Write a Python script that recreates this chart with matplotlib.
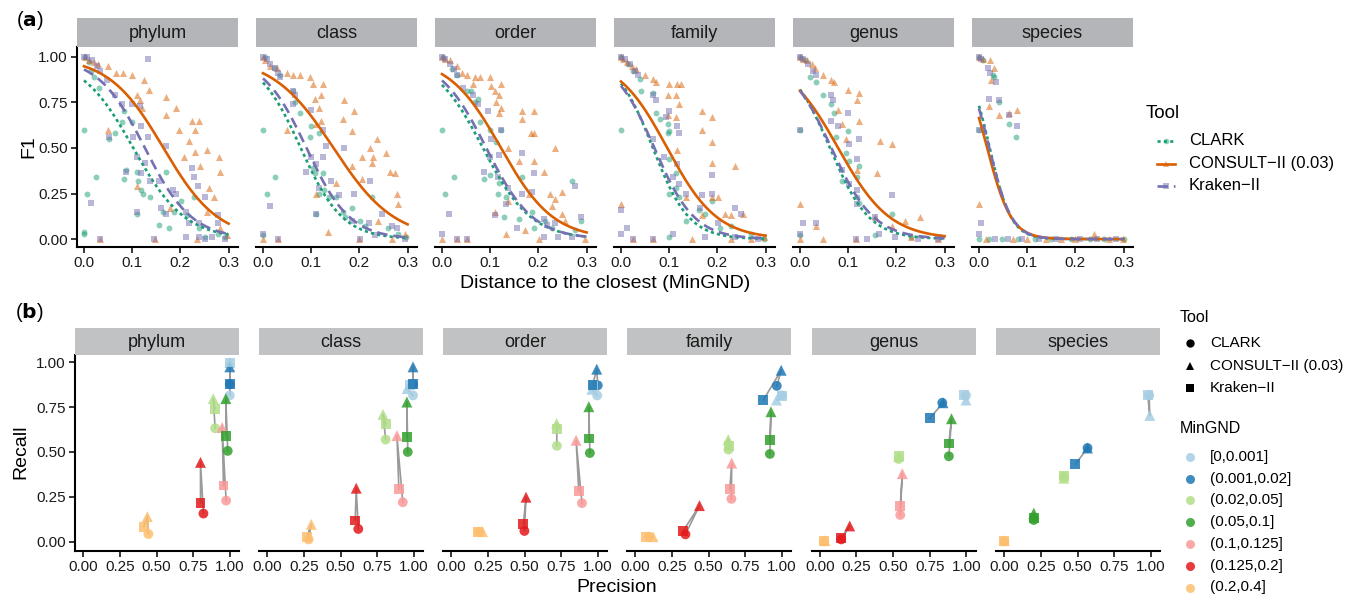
import numpy as np
import matplotlib
matplotlib.use("Agg")
import matplotlib.pyplot as plt
from matplotlib.lines import Line2D

plt.rcParams['font.family'] = ['Liberation Sans', 'DejaVu Sans']

W, H = 1364, 599

ranks = ['phylum', 'class', 'order', 'family', 'genus', 'species']
tools = ['CLARK', 'CONSULT\u2212II (0.03)', 'Kraken\u2212II']
tool_colors = ['#1B9E77', '#D95F02', '#7570B3']
tool_markers = ['o', '^', 's']
tool_styles = [(0, (1.2, 1.2)), '-', (0, (4, 2.2))]

bins = ['[0,0.001]', '(0.001,0.02]', '(0.02,0.05]', '(0.05,0.1]',
        '(0.1,0.125]', '(0.125,0.2]', '(0.2,0.4]']
bin_colors = ['#A6CEE3', '#1F78B4', '#B2DF8A', '#33A02C', '#FB9A99', '#E31A1C', '#FDBF6F']

# ---------------- (a) F1 vs MinGND: (distance, F1) per query ----------------
phylum_clark = [(0.0,0.6),(0.0,0.04),(0.0,0.03),(0.007,0.25),(0.024,0.34),(0.02,0.89),(0.014,0.92),
    (0.003,1.0),(0.031,0.83),(0.051,0.55),(0.065,0.58),(0.078,0.64),(0.082,0.7),(0.099,0.64),
    (0.082,0.33),(0.088,0.38),(0.109,0.37),(0.112,0.32),(0.119,0.27),(0.122,0.25),(0.136,0.23),
    (0.156,0.08),(0.163,0.15),(0.17,0.37),(0.177,0.06),(0.187,0.15),(0.201,0.21),(0.214,0.13),
    (0.228,0.23),(0.238,0.06),(0.252,0.01),(0.279,0.03),(0.293,0.01),(0.109,0.14),(0.01,0.97)]
phylum_consult = [(0.003,1.0),(0.01,0.98),(0.02,0.97),(0.03,0.96),(0.05,0.95),(0.066,0.91),(0.08,0.91),
    (0.1,0.9),(0.124,0.87),(0.134,0.82),(0.11,0.79),(0.117,0.76),(0.12,0.72),(0.17,0.78),(0.17,0.68),
    (0.19,0.72),(0.197,0.6),(0.224,0.65),(0.238,0.65),(0.23,0.6),(0.217,0.54),(0.255,0.49),(0.23,0.48),
    (0.207,0.45),(0.24,0.4),(0.28,0.45),(0.283,0.37),(0.269,0.23),(0.259,0.28),(0.255,0.15),(0.11,0.29),
    (0.179,0.17),(0.05,0.6),(0.034,0.0),(0.148,0.0),(0.234,0.0),(0.283,0.06),(0.296,0.02)]
phylum_kraken = [(0.0,1.0),(0.007,1.0),(0.017,0.98),(0.027,0.95),(0.034,0.92),(0.048,0.87),(0.065,0.79),
    (0.078,0.74),(0.099,0.74),(0.116,0.73),(0.102,0.56),(0.119,0.62),(0.133,0.56),(0.051,0.56),
    (0.109,0.45),(0.126,0.42),(0.088,0.37),(0.119,0.36),(0.136,0.32),(0.156,0.32),(0.17,0.51),
    (0.184,0.27),(0.19,0.25),(0.228,0.34),(0.237,0.29),(0.252,0.23),(0.224,0.39),(0.16,0.17),
    (0.17,0.14),(0.211,0.15),(0.218,0.09),(0.238,0.09),(0.279,0.13),(0.279,0.09),(0.014,0.2),
    (0.109,0.15),(0.034,0.0),(0.146,0.0),(0.133,0.99),(0.211,0.01),(0.238,0.01),(0.265,0.01),
    (0.293,0.0),(0.252,0.0)]

class_clark = [(0.001,0.6),(0.008,0.25),(0.025,0.34),(0.005,1.0),(0.022,0.94),(0.035,0.9),(0.063,0.81),
    (0.066,0.75),(0.076,0.69),(0.1,0.62),(0.097,0.56),(0.117,0.58),(0.103,0.39),(0.107,0.36),
    (0.124,0.36),(0.117,0.25),(0.127,0.27),(0.137,0.23),(0.165,0.15),(0.171,0.12),(0.185,0.17),
    (0.202,0.1),(0.212,0.07),(0.226,0.23),(0.26,0.06),(0.28,0.03),(0.297,0.01),(0.11,0.14),(0.151,0.23),
    (0.0,0.02)]
class_consult = [(0.0,1.0),(0.005,0.98),(0.015,0.95),(0.029,0.94),(0.049,0.91),(0.063,0.9),(0.076,0.9),
    (0.097,0.89),(0.103,0.85),(0.124,0.85),(0.12,0.79),(0.107,0.77),(0.117,0.72),(0.12,0.65),(0.11,0.63),
    (0.168,0.76),(0.188,0.7),(0.185,0.59),(0.165,0.66),(0.236,0.55),(0.205,0.45),(0.229,0.45),
    (0.222,0.5),(0.226,0.42),(0.185,0.4),(0.205,0.33),(0.256,0.47),(0.263,0.37),(0.273,0.36),
    (0.277,0.25),(0.28,0.19),(0.151,0.31),(0.11,0.25),(0.049,0.6),(0.134,0.04),(0.239,0.1),(0.001,0.0),
    (0.032,0.0),(0.199,0.0),(0.267,0.0),(0.294,0.03)]
class_kraken = [(0.0,1.0),(0.008,0.99),(0.015,0.96),(0.025,0.94),(0.032,0.91),(0.035,0.89),(0.063,0.81),
    (0.066,0.79),(0.063,0.74),(0.1,0.71),(0.124,0.6),(0.1,0.45),(0.09,0.37),(0.11,0.41),(0.124,0.45),
    (0.131,0.51),(0.168,0.5),(0.117,0.28),(0.141,0.32),(0.158,0.24),(0.188,0.25),(0.222,0.32),
    (0.185,0.1),(0.219,0.09),(0.246,0.14),(0.267,0.07),(0.277,0.06),(0.015,0.18),(0.001,0.03),
    (0.032,0.0),(0.11,0.14),(0.202,0.0),(0.233,0.02),(0.294,0.0)]

order_clark = [(0.0,0.6),(0.007,0.25),(0.024,0.34),(0.003,1.0),(0.02,0.93),(0.031,0.9),(0.051,0.81),
    (0.061,0.81),(0.075,0.77),(0.068,0.75),(0.078,0.64),(0.099,0.6),(0.122,0.6),(0.112,0.53),
    (0.088,0.33),(0.099,0.35),(0.119,0.31),(0.116,0.25),(0.133,0.23),(0.129,0.12),(0.167,0.34),
    (0.16,0.11),(0.187,0.15),(0.19,0.06),(0.214,0.1),(0.228,0.06),(0.269,0.32),(0.289,0.1),(0.276,0.05)]
order_consult = [(0.0,1.0),(0.007,0.99),(0.017,0.98),(0.031,0.95),(0.041,0.91),(0.051,0.9),(0.068,0.89),
    (0.078,0.89),(0.099,0.89),(0.065,0.85),(0.102,0.84),(0.109,0.81),(0.122,0.85),(0.112,0.75),
    (0.119,0.79),(0.122,0.72),(0.119,0.69),(0.167,0.7),(0.19,0.7),(0.167,0.66),(0.184,0.58),(0.19,0.58),
    (0.136,0.5),(0.16,0.43),(0.19,0.43),(0.211,0.37),(0.235,0.5),(0.18,0.25),(0.224,0.25),(0.248,0.26),
    (0.228,0.18),(0.235,0.22),(0.248,0.14),(0.255,0.1),(0.109,0.15),(0.136,0.21),(0.173,0.05),
    (0.133,0.03),(0.0,0.0),(0.031,0.0),(0.051,0.0),(0.201,0.0),(0.296,0.0)]
order_kraken = [(0.0,1.0),(0.007,0.99),(0.017,0.96),(0.024,0.93),(0.031,0.9),(0.044,0.83),(0.065,0.79),
    (0.075,0.74),(0.095,0.7),(0.122,0.6),(0.102,0.55),(0.099,0.45),(0.119,0.46),(0.088,0.37),
    (0.116,0.34),(0.136,0.28),(0.133,0.19),(0.167,0.47),(0.19,0.36),(0.187,0.26),(0.167,0.25),
    (0.156,0.06),(0.211,0.11),(0.218,0.08),(0.235,0.09),(0.276,0.29),(0.289,0.12),(0.014,0.14),
    (0.0,0.03),(0.109,0.13),(0.211,0.01),(0.241,0.01),(0.269,0.01),(0.031,0.0),(0.051,0.0)]

family_clark = [(0.001,0.6),(0.001,1.0),(0.015,0.96),(0.025,0.92),(0.039,0.88),(0.042,0.81),(0.073,0.69),
    (0.097,0.63),(0.097,0.58),(0.1,0.59),(0.1,0.44),(0.114,0.36),(0.1,0.25),(0.12,0.23),(0.114,0.28),
    (0.134,0.1),(0.188,0.21),(0.175,0.14),(0.161,0.16),(0.205,0.06),(0.229,0.07),(0.27,0.03),(0.297,0.0),
    (0.1,0.01),(0.066,0.8),(0.08,0.66)]
family_consult = [(0.0,1.0),(0.005,0.99),(0.012,0.97),(0.022,0.95),(0.032,0.93),(0.049,0.9),(0.066,0.88),
    (0.073,0.86),(0.1,0.85),(0.097,0.79),(0.117,0.85),(0.124,0.85),(0.114,0.79),(0.12,0.74),(0.114,0.67),
    (0.097,0.68),(0.168,0.7),(0.188,0.67),(0.168,0.6),(0.188,0.53),(0.117,0.49),(0.188,0.42),(0.236,0.4),
    (0.188,0.23),(0.202,0.23),(0.216,0.14),(0.229,0.13),(0.253,0.14),(0.168,0.13),(0.134,0.23),
    (0.001,0.19),(0.025,0.0),(0.066,0.0),(0.148,0.0),(0.229,0.0),(0.27,0.0),(0.297,0.01)]
family_kraken = [(0.0,1.0),(0.008,0.99),(0.018,0.96),(0.029,0.92),(0.035,0.9),(0.066,0.79),(0.073,0.76),
    (0.1,0.7),(0.093,0.67),(0.117,0.62),(0.12,0.58),(0.066,0.55),(0.09,0.45),(0.117,0.41),(0.107,0.34),
    (0.12,0.3),(0.134,0.25),(0.188,0.35),(0.188,0.25),(0.168,0.24),(0.164,0.17),(0.202,0.09),
    (0.236,0.17),(0.25,0.14),(0.012,0.06),(0.001,0.16),(0.001,0.03),(0.107,0.03),(0.175,0.01),
    (0.236,0.01),(0.284,0.0),(0.025,0.0),(0.066,0.0)]

genus_clark = [(0.0,1.0),(0.01,0.98),(0.02,0.89),(0.034,0.86),(0.048,0.79),(0.065,0.74),(0.071,0.69),
    (0.075,0.56),(0.099,0.59),(0.095,0.47),(0.102,0.43),(0.122,0.4),(0.119,0.34),(0.088,0.32),
    (0.119,0.23),(0.122,0.2),(0.19,0.14),(0.156,0.02),(0.0,0.6),(0.293,0.01),(0.231,0.01),(0.0,0.02)]
genus_consult = [(0.0,1.0),(0.007,0.99),(0.014,0.98),(0.024,0.96),(0.031,0.94),(0.048,0.9),(0.065,0.87),
    (0.071,0.86),(0.099,0.82),(0.122,0.8),(0.119,0.76),(0.078,0.71),(0.122,0.65),(0.088,0.63),
    (0.095,0.55),(0.119,0.38),(0.167,0.54),(0.19,0.52),(0.16,0.36),(0.0,0.19),(0.034,0.07),(0.156,0.12),
    (0.218,0.1),(0.248,0.12),(0.19,0.07),(0.0,0.0),(0.048,0.0),(0.116,0.0),(0.231,0.01),(0.286,0.0)]
genus_kraken = [(0.0,1.0),(0.007,0.99),(0.017,0.96),(0.027,0.92),(0.034,0.9),(0.065,0.79),(0.068,0.76),
    (0.065,0.65),(0.078,0.62),(0.099,0.69),(0.122,0.55),(0.101,0.52),(0.119,0.44),(0.087,0.38),
    (0.101,0.3),(0.119,0.27),(0.119,0.19),(0.19,0.24),(0.156,0.12),(0.0,0.03),(0.007,0.09),(0.034,0.09),
    (0.163,0.03),(0.197,0.01),(0.245,0.0),(0.286,0.0),(0.0,0.6),(0.116,0.0),(0.138,0.0)]

species_clark = [(0.001,1.0),(0.008,0.98),(0.029,0.9),(0.032,0.89),(0.041,0.75),(0.063,0.63),(0.076,0.56),
    (0.0,0.6),(0.0,0.0),(0.02,0.0),(0.048,0.0),(0.08,0.0),(0.116,0.0),(0.15,0.0),(0.19,0.0),(0.23,0.0),
    (0.26,0.0),(0.3,0.0)]
species_consult = [(0.0,1.0),(0.008,0.99),(0.022,0.98),(0.032,0.94),(0.024,0.87),(0.02,0.73),(0.041,0.68),
    (0.063,0.69),(0.078,0.71),(0.0,0.19),(0.239,0.03),(0.015,0.0),(0.07,0.0),(0.1,0.0),(0.138,0.0),
    (0.17,0.0),(0.2,0.0),(0.27,0.0),(0.298,0.0)]
species_kraken = [(0.0,1.0),(0.005,0.99),(0.018,0.94),(0.023,0.91),(0.035,0.86),(0.02,0.77),(0.041,0.76),
    (0.063,0.68),(0.078,0.62),(0.0,0.6),(0.005,0.09),(0.0,0.03),(0.034,0.0),(0.06,0.0),(0.09,0.0),
    (0.125,0.0),(0.16,0.0),(0.21,0.0),(0.245,0.0),(0.285,0.0)]

f1_points = {
    'phylum': [phylum_clark, phylum_consult, phylum_kraken],
    'class': [class_clark, class_consult, class_kraken],
    'order': [order_clark, order_consult, order_kraken],
    'family': [family_clark, family_consult, family_kraken],
    'genus': [genus_clark, genus_consult, genus_kraken],
    'species': [species_clark, species_consult, species_kraken],
}

# logistic (binomial GLM) fits: F1 = 1 / (1 + exp(-(b0 + b1 * d)))
clark_b0 = [1.90, 1.80, 1.70, 1.76, 1.52, 1.00]
clark_b1 = [-18.6, -23.0, -20.0, -26.6, -24.5, -45.0]
consult_b0 = [2.90, 2.31, 2.25, 1.85, 1.47, 0.68]
consult_b1 = [-17.6, -15.8, -18.4, -19.3, -18.6, -40.0]
kraken_b0 = [2.59, 2.00, 1.90, 1.66, 1.47, 0.92]
kraken_b1 = [-20.5, -22.2, -20.7, -24.0, -22.6, -43.0]
fit_b0 = [clark_b0, consult_b0, kraken_b0]
fit_b1 = [clark_b1, consult_b1, kraken_b1]

# ---------------- (b) precision / recall per MinGND bin ----------------
nan = np.nan
phylum_prec = [[1.0, 1.0, 0.90, 0.986, 0.975, 0.82, 0.444],
               [1.0, 1.0, 0.887, 0.973, 0.948, 0.80, 0.437],
               [1.0, 1.0, 0.899, 0.975, 0.957, 0.80, 0.414]]
phylum_rec = [[0.815, 0.877, 0.632, 0.506, 0.229, 0.157, 0.043],
              [0.998, 0.974, 0.797, 0.797, 0.636, 0.442, 0.14],
              [0.998, 0.877, 0.741, 0.591, 0.313, 0.215, 0.084]]
class_prec = [[0.995, 0.995, 0.808, 0.959, 0.925, 0.621, 0.282],
              [0.955, 0.995, 0.79, 0.953, 0.885, 0.607, 0.30],
              [0.973, 0.995, 0.808, 0.953, 0.898, 0.60, 0.27]]
class_rec = [[0.815, 0.877, 0.569, 0.5, 0.22, 0.071, 0.013],
             [0.853, 0.974, 0.709, 0.778, 0.591, 0.298, 0.097],
             [0.871, 0.877, 0.657, 0.584, 0.295, 0.118, 0.028]]
order_prec = [[0.996, 1.0, 0.721, 0.946, 0.892, 0.499, 0.19],
              [0.96, 0.993, 0.719, 0.939, 0.852, 0.51, 0.213],
              [0.971, 0.964, 0.724, 0.939, 0.87, 0.492, 0.184]]
order_rec = [[0.815, 0.871, 0.534, 0.494, 0.215, 0.06, 0.056],
             [0.849, 0.961, 0.659, 0.752, 0.565, 0.248, 0.056],
             [0.868, 0.871, 0.629, 0.575, 0.284, 0.099, 0.056]]
family_prec = [[1.0, 0.966, 0.636, 0.919, 0.656, 0.342, 0.094],
               [0.964, 0.996, 0.634, 0.926, 0.658, 0.438, 0.121],
               [1.0, 0.874, 0.638, 0.919, 0.645, 0.326, 0.072]]
family_rec = [[0.815, 0.868, 0.513, 0.489, 0.239, 0.041, 0.028],
              [0.789, 0.955, 0.569, 0.724, 0.438, 0.201, 0.028],
              [0.812, 0.789, 0.535, 0.565, 0.295, 0.06, 0.028]]
genus_prec = [[0.998, 0.836, 0.538, 0.881, 0.549, 0.146, 0.029],
              [0.998, 0.841, 0.538, 0.899, 0.563, 0.204, 0.034],
              [0.982, 0.751, 0.538, 0.881, 0.549, 0.146, 0.029]]
genus_rec = [[0.815, 0.774, 0.461, 0.476, 0.149, 0.013, 0.002],
             [0.789, 0.774, 0.476, 0.685, 0.379, 0.088, 0.006],
             [0.815, 0.687, 0.476, 0.547, 0.2, 0.019, 0.004]]
species_prec = [[0.989, 0.568, 0.407, 0.201, nan, nan, 0.0],
                [0.993, 0.568, 0.407, 0.201, nan, nan, 0.0],
                [0.98, 0.485, 0.407, 0.201, nan, nan, 0.0]]
species_rec = [[0.815, 0.522, 0.36, 0.121, nan, nan, 0.002],
               [0.703, 0.522, 0.354, 0.159, nan, nan, 0.006],
               [0.815, 0.431, 0.364, 0.131, nan, nan, 0.004]]
pr_prec = {'phylum': phylum_prec, 'class': class_prec, 'order': order_prec,
           'family': family_prec, 'genus': genus_prec, 'species': species_prec}
pr_rec = {'phylum': phylum_rec, 'class': class_rec, 'order': order_rec,
          'family': family_rec, 'genus': genus_rec, 'species': species_rec}
path_order = [0, 1, 2]  # CLARK -> CONSULT -> Kraken

# ---------------- figure ----------------
fig = plt.figure(figsize=(W / 100, H / 100), dpi=100)


def fx(px):
    return px / W


def fy(py):
    return 1 - py / H


def style_axes(ax, show_y):
    for s in ['top', 'right']:
        ax.spines[s].set_visible(False)
    ax.spines['bottom'].set_linewidth(1.5)
    ax.spines['left'].set_linewidth(1.5)
    ax.spines['left'].set_visible(show_y)
    ax.tick_params(axis='both', direction='out', length=4, width=1.1, color='black',
                   labelsize=11, labelcolor='#1a1a1a', pad=2.5)
    if not show_y:
        ax.tick_params(axis='y', left=False, labelleft=False)
    ax.set_facecolor('white')


def add_strip(left, top, width, bottom, label, color):
    sax = fig.add_axes([fx(left), fy(bottom), fx(width), (bottom - top) / H])
    sax.set_facecolor(color)
    sax.set_xticks([])
    sax.set_yticks([])
    for s in sax.spines.values():
        s.set_visible(False)
    sax.text(0.5, 0.46, label, ha='center', va='center', fontsize=13, color='#1a1a1a',
             transform=sax.transAxes)


marker_scale_top = [18, 26, 18]
marker_scale_bot = [50, 62, 50]

# top row
top_lefts = [77, 256, 435, 614, 793, 972]
top_w = 161
top_strip_top, top_plot_top, top_plot_bot = 18, 46.7, 247.3
xs_fit = np.linspace(0, 0.3, 200)
for i, r in enumerate(ranks):
    L = top_lefts[i]
    ax = fig.add_axes([fx(L), fy(top_plot_bot), fx(top_w), (top_plot_bot - top_plot_top) / H])
    for t in range(3):
        pts = np.array(f1_points[r][t])
        ax.scatter(pts[:, 0], pts[:, 1], s=marker_scale_top[t], marker=tool_markers[t],
                   color=tool_colors[t], alpha=0.5, linewidths=0, zorder=2)
    for t in range(3):
        yfit = 1.0 / (1.0 + np.exp(-(fit_b0[t][i] + fit_b1[t][i] * xs_fit)))
        ax.plot(xs_fit, yfit, color=tool_colors[t], lw=1.9, ls=tool_styles[t], zorder=3)
    ax.set_xlim(-0.0145, 0.3195)
    ax.set_ylim(-0.045, 1.055)
    ax.set_xticks([0, 0.1, 0.2, 0.3])
    ax.set_xticklabels(['0.0', '0.1', '0.2', '0.3'])
    ax.set_yticks([0, 0.25, 0.5, 0.75, 1.0])
    ax.set_yticklabels(['0.00', '0.25', '0.50', '0.75', '1.00'])
    style_axes(ax, i == 0)
    add_strip(L, top_strip_top, top_w, top_plot_top, r, '#B3B5B8')

# bottom row
bot_lefts = [75, 259, 443, 627, 811.5, 996]
bot_w = 164
bot_strip_top, bot_plot_top, bot_plot_bot = 328, 355, 550.7
for i, r in enumerate(ranks):
    L = bot_lefts[i]
    ax = fig.add_axes([fx(L), fy(bot_plot_bot), fx(bot_w), (bot_plot_bot - bot_plot_top) / H])
    P = np.array(pr_prec[r])
    R = np.array(pr_rec[r])
    for b in range(len(bins)):
        ax.plot(P[path_order, b], R[path_order, b], color='#9A9A9A', lw=1.2, zorder=2)
    for t in range(3):
        ax.scatter(P[t], R[t], s=marker_scale_bot[t], marker=tool_markers[t], c=bin_colors,
                   alpha=0.85, linewidths=0, zorder=3)
    ax.set_xlim(-0.057, 1.063)
    ax.set_ylim(-0.05, 1.04)
    ax.set_xticks([0, 0.25, 0.5, 0.75, 1.0])
    ax.set_xticklabels(['0.00', '0.25', '0.50', '0.75', '1.00'])
    ax.set_yticks([0, 0.25, 0.5, 0.75, 1.0])
    ax.set_yticklabels(['0.00', '0.25', '0.50', '0.75', '1.00'])
    style_axes(ax, i == 0)
    add_strip(L, bot_strip_top, bot_w, bot_plot_top, r, '#C1C2C4')

# axis titles & panel tags
fig.text(fx(29), fy(147), 'F1', rotation=90, ha='center', va='center', fontsize=14)
fig.text(fx(605), fy(284), 'Distance to the closest (MinGND)', ha='center', va='center', fontsize=14)
fig.text(fx(21), fy(452), 'Recall', rotation=90, ha='center', va='center', fontsize=14)
fig.text(fx(617), fy(587), 'Precision', ha='center', va='center', fontsize=14)
fig.text(fx(16), fy(20), r'($\bf{a}$)', ha='left', va='center', fontsize=14.5)
fig.text(fx(15), fy(312), r'($\bf{b}$)', ha='left', va='center', fontsize=14.5)

# legend (a)
fig.text(fx(1146), fy(113), 'Tool', ha='left', va='center', fontsize=13.5)
leg_a_y = [141, 163.5, 186]
for t in range(3):
    y = fy(leg_a_y[t])
    fig.add_artist(Line2D([fx(1157), fx(1175)], [y, y], color=tool_colors[t], lw=1.9,
                          ls=tool_styles[t], transform=fig.transFigure))
    fig.add_artist(Line2D([fx(1166)], [y], color=tool_colors[t], marker=tool_markers[t],
                          markersize=4, alpha=0.5, ls='none', markeredgewidth=0,
                          transform=fig.transFigure))
    fig.text(fx(1189), y, tools[t], ha='left', va='center', fontsize=12)

# legend (b): Tool shapes
fig.text(fx(1180), fy(317), 'Tool', ha='left', va='center', fontsize=11.5)
leg_b_y = [343.3, 365.7, 388.3]
for t in range(3):
    y = fy(leg_b_y[t])
    fig.add_artist(Line2D([fx(1190)], [y], color='black', marker=tool_markers[t], markersize=6,
                          ls='none', markeredgewidth=0, transform=fig.transFigure))
    fig.text(fx(1210), y, tools[t], ha='left', va='center', fontsize=11)

# legend (b): MinGND colours
fig.text(fx(1180), fy(428.3), 'MinGND', ha='left', va='center', fontsize=11.5)
for b in range(len(bins)):
    y = fy(456.7 + 21.8 * b)
    fig.add_artist(Line2D([fx(1190)], [y], color=bin_colors[b], marker='o', markersize=6.5,
                          ls='none', markeredgewidth=0, alpha=0.85, transform=fig.transFigure))
    fig.text(fx(1210), y, bins[b], ha='left', va='center', fontsize=11)

fig.savefig('out.png', dpi=100, facecolor='white')
